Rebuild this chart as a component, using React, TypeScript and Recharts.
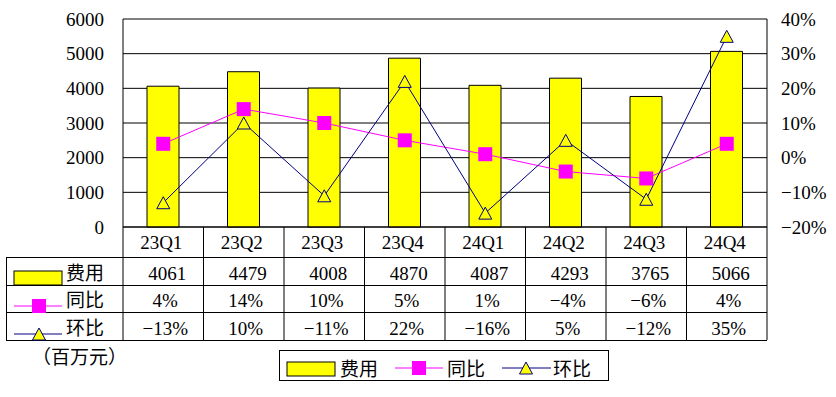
import { Bar, CartesianGrid, ComposedChart, Line, ReferenceLine, XAxis, YAxis } from "recharts"

document.body.style.margin = "0"

const quarters = ["23Q1", "23Q2", "23Q3", "23Q4", "24Q1", "24Q2", "24Q3", "24Q4"]
const expense = [4061, 4479, 4008, 4870, 4087, 4293, 3765, 5066]
const yoy = [4, 14, 10, 5, 1, -4, -6, 4]
const qoq = [-13, 10, -11, 22, -16, 5, -12, 35]
const leftTicks = [0, 1000, 2000, 3000, 4000, 5000, 6000]
const rightTicks = [-20, -10, 0, 10, 20, 30, 40]
const seriesNames = ["费用", "同比", "环比"]

const data = quarters.map((quarter, i) => ({
  quarter,
  expense: expense[i],
  yoy: yoy[i],
  qoq: qoq[i],
}))

const NUM_FONT = '"Liberation Serif", "DejaVu Serif", serif'
const CJK_FONT = '"Noto Sans CJK SC", sans-serif'

// table geometry
const PLOT_LEFT = 123
const PLOT_RIGHT = 767
const PLOT_BOTTOM = 227
const ROW_LINES = [257, 285, 312, 340]
const BAND = (PLOT_RIGHT - PLOT_LEFT) / quarters.length

const pct = (v: number) => `${v < 0 ? "−" : ""}${Math.abs(v)}%`

function SquareDot(props: any) {
  const { cx, cy } = props
  if (cx == null || cy == null) return null
  return <rect x={cx - 7} y={cy - 7} width={14} height={14} fill="#FF00FF" />
}

function TriangleDot(props: any) {
  const { cx, cy } = props
  if (cx == null || cy == null) return null
  return (
    <path
      d={`M${cx},${cy - 6} L${cx + 6.5},${cy + 6} L${cx - 6.5},${cy + 6} Z`}
      fill="#FFFF00"
      stroke="#000080"
      strokeWidth={1}
    />
  )
}

// category label + data table column under each quarter
function TableTick(props: any) {
  const { x, payload } = props
  const i = quarters.indexOf(payload.value)
  const right = x + BAND / 2
  const textProps = {
    textAnchor: "middle" as const,
    dominantBaseline: "central" as const,
    fontFamily: NUM_FONT,
    fontSize: 19,
    fill: "#000",
  }
  return (
    <g>
      <line x1={right} x2={right} y1={PLOT_BOTTOM} y2={ROW_LINES[3]} stroke="#000" />
      <text x={x - 2} y={242} {...textProps}>{payload.value}</text>
      <text x={x + 4} y={273} {...textProps}>{expense[i]}</text>
      <text x={x + 2} y={300} {...textProps}>{pct(yoy[i])}</text>
      <text x={x + 2} y={328} {...textProps}>{pct(qoq[i])}</text>
    </g>
  )
}

function LegendBox() {
  return (
    <div
      style={{
        position: "absolute",
        left: 279,
        top: 350,
        width: 330,
        height: 31,
        border: "1px solid #000",
        boxSizing: "border-box",
        background: "#fff",
      }}
    >
      <svg width={328} height={29} style={{ display: "block", overflow: "visible" }}>
        <rect x={7} y={11} width={48} height={14} fill="#FFFF00" stroke="#000" />
        <text x={60} y={16} dominantBaseline="central" fontFamily={CJK_FONT} fontSize={19}>{seriesNames[0]}</text>
        <line x1={115} x2={163} y1={17} y2={17} stroke="#FF00FF" />
        <rect x={132} y={10} width={14} height={14} fill="#FF00FF" />
        <text x={167} y={16} dominantBaseline="central" fontFamily={CJK_FONT} fontSize={19}>{seriesNames[1]}</text>
        <line x1={222} x2={271} y1={17} y2={17} stroke="#000080" />
        <TriangleDot cx={246} cy={17} />
        <text x={273} y={16} dominantBaseline="central" fontFamily={CJK_FONT} fontSize={19}>{seriesNames[2]}</text>
      </svg>
    </div>
  )
}

function TableFrame() {
  const rowMid = [271, 298, 326]
  return (
    <svg width={836} height={397} style={{ position: "absolute", left: 0, top: 0, pointerEvents: "none" }}>
      {ROW_LINES.map((y) => (
        <line key={y} x1={6} x2={PLOT_RIGHT} y1={y + 0.5} y2={y + 0.5} stroke="#000" />
      ))}
      <line x1={6.5} x2={6.5} y1={ROW_LINES[0]} y2={ROW_LINES[3]} stroke="#000" />
      <line x1={PLOT_LEFT} x2={PLOT_LEFT} y1={PLOT_BOTTOM} y2={ROW_LINES[3]} stroke="#000" />
      <rect x={14} y={271} width={48} height={14} fill="#FFFF00" stroke="#000" />
      <line x1={14} x2={62} y1={306} y2={306} stroke="#FF00FF" />
      <rect x={32} y={299} width={14} height={14} fill="#FF00FF" />
      <line x1={14} x2={62} y1={334} y2={334} stroke="#000080" />
      <TriangleDot cx={39} cy={334} />
      {seriesNames.map((name, i) => (
        <text key={name} x={66} y={rowMid[i]} dominantBaseline="central" fontFamily={CJK_FONT} fontSize={19}>
          {name}
        </text>
      ))}
      <text x={32} y={355} dominantBaseline="central" fontFamily={CJK_FONT} fontSize={19}>（百万元）</text>
    </svg>
  )
}

export default function App() {
  return (
    <div style={{ position: "relative", width: 836, height: 397, background: "#fff" }}>
      <ComposedChart width={836} height={397} data={data} margin={{ top: 19, right: 0, left: 0, bottom: 57 }}>
        <CartesianGrid yAxisId="left" vertical={false} stroke="#000" />
        <XAxis
          dataKey="quarter"
          height={113}
          interval={0}
          axisLine={{ stroke: "#000" }}
          tickLine={false}
          tickSize={0}
          tick={<TableTick />}
        />
        <YAxis
          yAxisId="left"
          width={123}
          domain={[0, 6000]}
          ticks={leftTicks}
          axisLine={{ stroke: "#000" }}
          tickLine={false}
          tickSize={0}
          tickMargin={19}
          tick={{ fill: "#000", fontFamily: NUM_FONT, fontSize: 19 }}
        />
        <YAxis
          yAxisId="right"
          orientation="right"
          width={69}
          domain={[-20, 40]}
          ticks={rightTicks}
          tickFormatter={pct}
          axisLine={{ stroke: "#000" }}
          tickLine={false}
          tickSize={0}
          tickMargin={14}
          tick={{ fill: "#000", fontFamily: NUM_FONT, fontSize: 19 }}
        />
        <ReferenceLine yAxisId="left" y={6000} stroke="#808080" />
        <Bar yAxisId="left" dataKey="expense" name="费用" fill="#FFFF00" stroke="#000" barSize={32} isAnimationActive={false} />
        <Line yAxisId="right" dataKey="yoy" name="同比" type="linear" stroke="#FF00FF" strokeWidth={1} dot={<SquareDot />} isAnimationActive={false} />
        <Line yAxisId="right" dataKey="qoq" name="环比" type="linear" stroke="#000080" strokeWidth={1} dot={<TriangleDot />} isAnimationActive={false} />
      </ComposedChart>
      <TableFrame />
      <LegendBox />
    </div>
  )
}
